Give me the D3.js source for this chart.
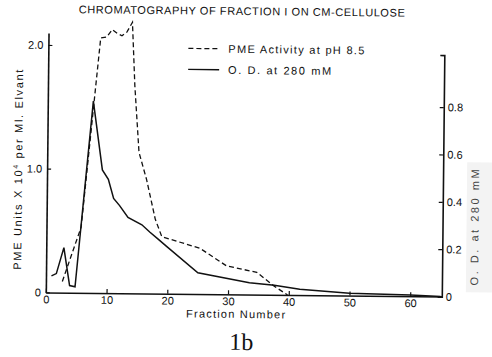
<!DOCTYPE html>
<html>
<head>
<meta charset="utf-8">
<script src="https://cdn.jsdelivr.net/npm/d3@7"></script>
<style>
  body { margin: 0; background: #fff; }
  text { font-family: "Liberation Sans", Arial, sans-serif; fill: #111; }
</style>
</head>
<body>
<div id="viz"></div>
<script>
// chart size
var width = 492;
var height = 357;

// data
var fractionTicks = [0, 10, 20, 30, 40, 50, 60];
var pmeTicks = [0, 1, 2];
var odTicks = [0, 0.2, 0.4, 0.6, 0.8];

// PME activity at pH 8.5 (dashed, left axis)
var pmeFraction = [2.7, 5.7, 8.6, 9.6, 10.5, 11.3, 12.1, 12.9, 13.8, 14.3, 15.1, 16.4, 17.9, 19, 25.3, 29.7, 34.7, 37.6, 39.8];
var pmeValue = [0.09, 0.53, 2.06, 2.07, 2.13, 2.1, 2.08, 2.11, 2.19, 1.68, 1.14, 0.92, 0.6, 0.46, 0.37, 0.23, 0.18, 0.07, 0];

// O.D. at 280 (solid, right axis)
var odFraction = [0.9, 1.7, 2.9, 3.9, 4.8, 7.5, 9.1, 10.1, 11, 12, 13.4, 15.7, 17, 18.4, 19.8, 25, 33.5, 37.6, 41.8, 50, 60, 65];
var odValue = [0.07, 0.08, 0.19, 0.03, 0.025, 0.81, 0.52, 0.48, 0.4, 0.37, 0.32, 0.29, 0.26, 0.23, 0.2, 0.09, 0.05, 0.04, 0.025, 0.01, 0.005, 0];

var svg = d3.select('#viz').append('svg')
  .attr('width', width)
  .attr('height', height);

// the scan is slightly tilted
var g = svg.append('g')
  .attr('transform', 'rotate(0.6, 245, 180)');

var x = d3.scaleLinear().domain([0, 65.2]).range([47, 443]);
var yL = d3.scaleLinear().domain([0, 2.097]).range([294.5, 35]);
var yR = d3.scaleLinear().domain([0, 1.02]).range([294.5, 53]);

// right label patch (scan artefact)
g.append('rect')
  .attr('x', 467).attr('y', 160)
  .attr('width', 26).attr('height', 130)
  .attr('fill', '#f3f3f3');

// axes
var xAxis = d3.axisBottom(x).tickValues(fractionTicks)
  .tickSize(-4).tickSizeOuter(0).tickPadding(3);
var lAxis = d3.axisLeft(yL).tickValues(pmeTicks)
  .tickSize(-4).tickSizeOuter(0).tickPadding(5)
  .tickFormat(function(d){ return d === 0 ? '0' : d3.format('.1f')(d); });
var rAxis = d3.axisRight(yR).tickValues(odTicks)
  .tickSize(-4).tickSizeOuter(-4).tickPadding(4)
  .tickFormat(function(d){ return d === 0 ? '0' : d3.format('.1f')(d); });

function styleAxis(sel) {
  sel.select('.domain').attr('stroke', '#111').attr('stroke-width', 1.6);
  sel.selectAll('.tick line').attr('stroke', '#111').attr('stroke-width', 1.2);
  sel.selectAll('.tick text')
    .attr('fill', '#111')
    .style('font-family', '"Liberation Sans", Arial, sans-serif')
    .style('font-size', '11px');
}

g.append('g').attr('transform', 'translate(0,' + yL(0) + ')').call(xAxis).call(styleAxis);
g.append('g').attr('transform', 'translate(' + x(0) + ',0)').call(lAxis).call(styleAxis);
g.append('g').attr('transform', 'translate(' + x(65.2) + ',0)').call(rAxis).call(styleAxis);

// lines
var pmeLine = d3.line()
  .x(function(d, i){ return x(pmeFraction[i]); })
  .y(function(d){ return yL(d); });
var odLine = d3.line()
  .x(function(d, i){ return x(odFraction[i]); })
  .y(function(d){ return yR(d); });

g.append('path')
  .datum(pmeValue)
  .attr('d', pmeLine)
  .attr('fill', 'none')
  .attr('stroke', '#111')
  .attr('stroke-width', 1.3)
  .attr('stroke-dasharray', '5,3');

g.append('path')
  .datum(odValue)
  .attr('d', odLine)
  .attr('fill', 'none')
  .attr('stroke', '#111')
  .attr('stroke-width', 1.5);

// title
g.append('text')
  .attr('x', 240).attr('y', 15)
  .attr('text-anchor', 'middle')
  .attr('textLength', 326).attr('lengthAdjust', 'spacing')
  .style('font-size', '11px')
  .text('CHROMATOGRAPHY OF FRACTION I ON CM-CELLULOSE');

// legend
g.append('line')
  .attr('x1', 187).attr('x2', 218).attr('y1', 49).attr('y2', 49)
  .attr('stroke', '#111').attr('stroke-width', 1.2)
  .attr('stroke-dasharray', '5,3');
g.append('text')
  .attr('x', 227).attr('y', 53)
  .attr('textLength', 136).attr('lengthAdjust', 'spacing')
  .style('font-size', '11px')
  .text('PME Activity at pH 8.5');
g.append('line')
  .attr('x1', 187).attr('x2', 218).attr('y1', 70).attr('y2', 70)
  .attr('stroke', '#111').attr('stroke-width', 1.4);
g.append('text')
  .attr('x', 227).attr('y', 74)
  .attr('textLength', 103).attr('lengthAdjust', 'spacing')
  .style('font-size', '11px')
  .text('O. D. at 280 mM');

// axis titles
g.append('text')
  .attr('x', 237).attr('y', 318)
  .attr('text-anchor', 'middle')
  .attr('textLength', 99).attr('lengthAdjust', 'spacing')
  .style('font-size', '11px')
  .text('Fraction Number');

var yl = g.append('text')
  .attr('transform', 'translate(22,172) rotate(-90)')
  .attr('text-anchor', 'middle')
  .attr('textLength', 200).attr('lengthAdjust', 'spacing')
  .style('font-size', '11px');
yl.append('tspan').text('PME Units X 10');
yl.append('tspan').attr('dy', -4).style('font-size', '7px').text('4');
yl.append('tspan').attr('dy', 4).text(' per Ml. Elvant');

g.append('text')
  .attr('transform', 'translate(479,225) rotate(-90)')
  .attr('text-anchor', 'middle')
  .attr('textLength', 116).attr('lengthAdjust', 'spacing')
  .style('font-size', '11px')
  .style('fill', '#444')
  .text('O. D. at 280 mM');

// figure label
g.append('text')
  .attr('x', 243).attr('y', 350)
  .attr('text-anchor', 'middle')
  .style('font-family', '"Liberation Serif", "DejaVu Serif", serif')
  .style('font-size', '24px')
  .text('1b');
</script>
</body>
</html>
